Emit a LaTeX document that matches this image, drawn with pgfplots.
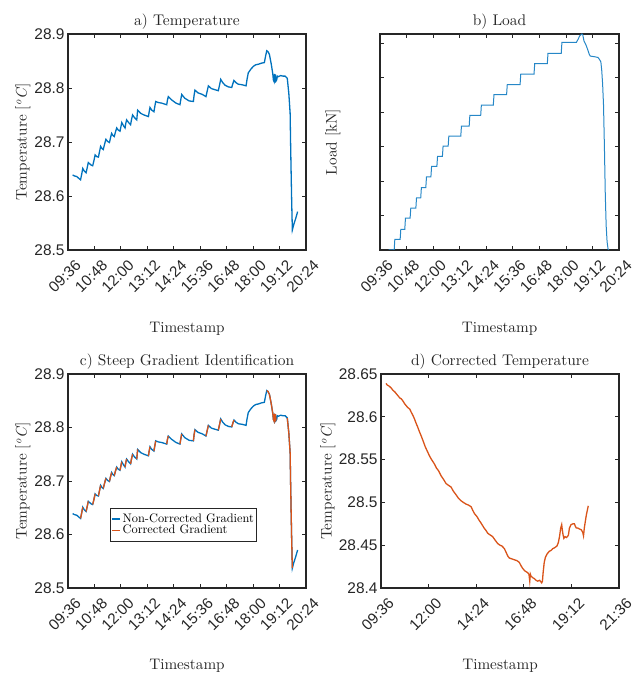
\documentclass[border=0pt]{standalone}
\usepackage{fontspec}
\setmainfont{lmroman10-regular.otf}[ItalicFont=lmroman10-italic.otf, BoldFont=lmroman10-bold.otf]
\setsansfont{Liberation Sans}
\usepackage{pgfplots}
\usepackage{pgfplotstable}
\pgfplotsset{compat=1.18}
\definecolor{mblue}{RGB}{0,114,189}
\definecolor{morange}{RGB}{217,83,25}
\definecolor{maxis}{RGB}{38,38,38}
\newcommand{\degC}{[\textsuperscript{\textit{o}}\textit{C}]}

\pgfplotstableread{
h T
9.81 28.639
9.90 28.637
10.00 28.636
10.08 28.633
10.17 28.630
10.22 28.640
10.27 28.651
10.34 28.646
10.42 28.643
10.47 28.652
10.52 28.662
10.60 28.659
10.66 28.657
10.72 28.656
10.78 28.666
10.83 28.676
10.90 28.673
10.98 28.672
11.03 28.682
11.08 28.692
11.14 28.688
11.20 28.686
11.26 28.696
11.32 28.705
11.40 28.701
11.48 28.699
11.53 28.708
11.58 28.716
11.64 28.712
11.70 28.710
11.75 28.718
11.81 28.726
11.88 28.722
11.96 28.720
12.00 28.728
12.04 28.736
12.12 28.730
12.19 28.726
12.22 28.734
12.26 28.741
12.35 28.736
12.44 28.732
12.48 28.741
12.53 28.750
12.62 28.745
12.72 28.741
12.74 28.750
12.76 28.759
12.90 28.753
13.05 28.750
13.25 28.747
13.28 28.755
13.32 28.764
13.40 28.759
13.50 28.756
13.54 28.766
13.58 28.775
13.70 28.773
13.85 28.772
14.00 28.770
14.08 28.769
14.11 28.777
14.15 28.784
14.30 28.778
14.50 28.772
14.68 28.769
14.72 28.779
14.76 28.788
14.90 28.781
15.10 28.776
15.29 28.775
15.32 28.786
15.36 28.796
15.50 28.791
15.70 28.788
15.86 28.784
15.92 28.795
15.97 28.804
16.10 28.799
16.25 28.797
16.42 28.795
16.48 28.806
16.53 28.816
16.62 28.810
16.73 28.805
16.88 28.802
17.03 28.801
17.08 28.808
17.13 28.814
17.22 28.810
17.33 28.807
17.50 28.806
17.68 28.804
17.72 28.815
17.78 28.828
17.90 28.835
18.01 28.840
18.12 28.843
18.24 28.844
18.38 28.846
18.51 28.847
18.57 28.860
18.62 28.869
18.68 28.867
18.74 28.862
18.82 28.845
18.89 28.827
18.92 28.815
18.95 28.812
18.97 28.826
18.99 28.810
19.01 28.825
19.04 28.813
19.07 28.815
19.10 28.822
19.15 28.821
19.25 28.823
19.35 28.822
19.45 28.822
19.50 28.820
19.55 28.818
19.62 28.790
19.68 28.753
19.70 28.700
19.72 28.654
19.75 28.590
19.78 28.537
19.85 28.548
19.93 28.558
20.02 28.571
}\tempdata

\pgfplotstableread{
h T
10.17 28.630
10.22 28.640
10.27 28.651
nan nan
10.42 28.643
10.47 28.652
10.52 28.662
nan nan
10.72 28.656
10.78 28.666
10.83 28.676
nan nan
10.98 28.672
11.03 28.682
11.08 28.692
nan nan
11.20 28.686
11.26 28.696
11.32 28.705
nan nan
11.48 28.699
11.53 28.708
11.58 28.716
nan nan
11.70 28.710
11.75 28.718
11.81 28.726
nan nan
11.96 28.720
12.00 28.728
12.04 28.736
nan nan
12.19 28.726
12.22 28.734
12.26 28.741
nan nan
12.44 28.732
12.48 28.741
12.53 28.750
nan nan
12.72 28.741
12.74 28.750
12.76 28.759
nan nan
13.25 28.747
13.28 28.755
13.32 28.764
nan nan
13.50 28.756
13.54 28.766
13.58 28.775
nan nan
14.08 28.769
14.11 28.777
14.15 28.784
nan nan
14.68 28.769
14.72 28.779
14.76 28.788
nan nan
15.29 28.775
15.32 28.786
15.36 28.796
nan nan
15.86 28.784
15.92 28.795
15.97 28.804
nan nan
16.42 28.795
16.48 28.806
16.53 28.816
nan nan
17.03 28.801
17.08 28.808
17.13 28.814
nan nan
18.62 28.869
18.68 28.867
18.74 28.862
18.82 28.845
18.89 28.827
18.92 28.815
18.95 28.812
18.97 28.826
18.99 28.810
19.01 28.825
19.04 28.813
nan nan
19.55 28.818
19.62 28.790
19.68 28.753
19.70 28.700
19.72 28.654
19.75 28.590
19.78 28.537
}\reddata

\pgfplotstableread{
h L
9.99 0
10.24 0
10.27 0.31
10.51 0.31
10.54 0.60
10.72 0.60
10.75 0.92
10.96 0.92
10.99 1.21
11.22 1.21
11.25 1.51
11.44 1.51
11.47 1.81
11.67 1.81
11.70 2.12
11.90 2.12
11.93 2.42
12.17 2.42
12.20 2.71
12.42 2.71
12.45 3.01
12.68 3.01
12.71 3.30
13.25 3.30
13.28 3.59
13.63 3.59
13.66 3.90
14.15 3.90
14.18 4.20
14.72 4.20
14.75 4.50
15.32 4.50
15.35 4.79
15.93 4.79
15.96 5.10
16.56 5.10
16.59 5.40
17.16 5.40
17.19 5.70
17.79 5.70
17.82 6.02
18.48 6.02
18.56 6.12
18.62 6.20
18.72 6.26
18.76 6.24
18.82 6.05
18.88 5.98
18.92 5.92
18.96 5.85
19.00 5.78
19.05 5.68
19.10 5.62
19.30 5.60
19.45 5.58
19.52 5.52
19.58 5.45
19.62 5.20
19.66 4.80
19.70 4.20
19.74 3.00
19.78 1.60
19.82 0.70
19.86 0.25
19.90 0.05
19.92 0
}\loaddata

\pgfplotstableread{
h T
9.85 28.639
9.92 28.637
10.00 28.636
10.10 28.634
10.20 28.631
10.30 28.629
10.44 28.625
10.55 28.622
10.62 28.621
10.69 28.619
10.80 28.615
10.94 28.611
11.05 28.609
11.11 28.606
11.20 28.602
11.28 28.598
11.36 28.593
11.45 28.588
11.53 28.583
11.62 28.578
11.72 28.572
11.83 28.565
11.95 28.559
12.05 28.554
12.15 28.550
12.29 28.545
12.40 28.540
12.50 28.537
12.63 28.531
12.75 28.527
12.88 28.522
13.00 28.520
13.13 28.518
13.25 28.513
13.38 28.509
13.50 28.505
13.63 28.502
13.75 28.500
13.89 28.498
14.00 28.497
14.14 28.495
14.22 28.491
14.31 28.487
14.45 28.483
14.55 28.479
14.64 28.476
14.80 28.470
14.90 28.467
14.98 28.464
15.10 28.462
15.23 28.460
15.35 28.456
15.48 28.452
15.60 28.450
15.70 28.449
15.82 28.446
15.92 28.441
16.00 28.437
16.07 28.435
16.20 28.434
16.32 28.433
16.45 28.432
16.57 28.430
16.66 28.426
16.74 28.423
16.85 28.420
16.99 28.418
17.06 28.416
17.10 28.408
17.13 28.416
17.16 28.414
17.25 28.412
17.33 28.411
17.42 28.409
17.50 28.408
17.60 28.409
17.70 28.406
17.74 28.408
17.77 28.417
17.83 28.430
17.89 28.436
17.98 28.440
18.09 28.443
18.18 28.444
18.26 28.446
18.35 28.447
18.47 28.449
18.54 28.453
18.60 28.460
18.66 28.470
18.71 28.474
18.74 28.468
18.78 28.462
18.82 28.458
18.88 28.460
18.95 28.459
19.00 28.460
19.05 28.462
19.10 28.470
19.18 28.474
19.28 28.475
19.35 28.475
19.40 28.472
19.45 28.470
19.52 28.470
19.60 28.469
19.70 28.468
19.77 28.465
19.81 28.461
19.85 28.470
19.95 28.485
20.05 28.496
}\corrdata

\pgfplotsset{
  mstyle/.style={
    scale only axis, anchor=south west,
    axis line style={maxis, line width=1.1pt},
    every tick/.style={maxis, line width=0.8pt},
    major tick length=4bp,
    tick align=inside,
    xticklabel style={font=\sffamily\fontsize{15.3}{15.3}\selectfont, rotate=45, anchor=north east, inner sep=1pt, text=maxis, yshift=-10bp, xshift=-1bp},
    yticklabel style={font=\sffamily\fontsize{15.5}{15.5}\selectfont, text=maxis},
    /pgf/number format/assume math mode=true,
    title style={font=\fontsize{15.5}{16}\selectfont, text=maxis, yshift=-5bp},
    every axis label/.append style={font=\fontsize{15.3}{16}\selectfont, text=maxis},
    xlabel style={at={(axis description cs:0.5,-0.365)}, anchor=center},
    xlabel={Timestamp},
    unbounded coords=jump,
  },
  timeA/.style={
    xmin=9.6, xmax=20.4,
    xtick={9.6,10.8,12,13.2,14.4,15.6,16.8,18,19.2,20.4},
    xticklabels={09:36,10:48,12:00,13:12,14:24,15:36,16:48,18:00,19:12,20:24},
  },
  tempA/.style={
    ymin=28.5, ymax=28.9, ytick={28.5,28.6,28.7,28.8,28.9},
    ylabel={Temperature \degC},
    ylabel style={at={(axis description cs:-0.19,0.5)}, anchor=center},
  },
}

\begin{document}
\begin{tikzpicture}[x=1bp,y=1bp]
\useasboundingbox (0,0) rectangle (638,675);

% a) Temperature
\begin{axis}[mstyle, timeA, tempA, at={(68bp,425bp)}, width=238bp, height=216bp,
  title={a) Temperature}]
  \addplot[mblue, line width=1.3bp] table[x=h,y=T] {\tempdata};
\end{axis}

% b) Load
\begin{axis}[mstyle, timeA, at={(380bp,425bp)}, width=239bp, height=216bp,
  title={b) Load},
  ymin=0, ymax=6.26, ytick={0,1,2,3,4,5,6}, yticklabels={},
  ylabel={Load [kN]},
  ylabel style={at={(axis description cs:-0.197,0.5)}, anchor=center}]
  \addplot[mblue!85, line width=1bp] table[x=h,y=L] {\loaddata};
\end{axis}

% c) Steep gradient identification
\begin{axis}[mstyle, timeA, tempA, at={(68bp,87bp)}, width=238bp, height=214bp,
  title={c) Steep Gradient Identification},
  legend style={at={(axis description cs:0.176,0.376)}, anchor=north west,
    font=\fontsize{12.4}{13}\selectfont, draw=maxis, line width=1pt,
    inner xsep=1pt, inner ysep=4pt, row sep=-3pt},
  legend cell align=left,
  legend image code/.code={\draw[#1] (0bp,0bp) -- (8bp,0bp);}]
  \addplot[mblue, line width=1.3bp] table[x=h,y=T] {\tempdata};
  \addlegendentry{Non-Corrected Gradient}
  \addplot[morange, line width=1.3bp] table[x=h,y=T] {\reddata};
  \addlegendentry{Corrected Gradient}
\end{axis}

% d) Corrected temperature
\begin{axis}[mstyle, at={(381bp,87bp)}, width=238bp, height=214bp,
  title={d) Corrected Temperature},
  xmin=9.6, xmax=21.6,
  xtick={9.6,12,14.4,16.8,19.2,21.6},
  xticklabels={09:36,12:00,14:24,16:48,19:12,21:36},
  ymin=28.4, ymax=28.65, ytick={28.4,28.45,28.5,28.55,28.6,28.65},
  ylabel={Temperature \degC},
  ylabel style={at={(axis description cs:-0.223,0.5)}, anchor=center}]
  \addplot[morange, line width=1.3bp] table[x=h,y=T] {\corrdata};
\end{axis}
\end{tikzpicture}
\end{document}
